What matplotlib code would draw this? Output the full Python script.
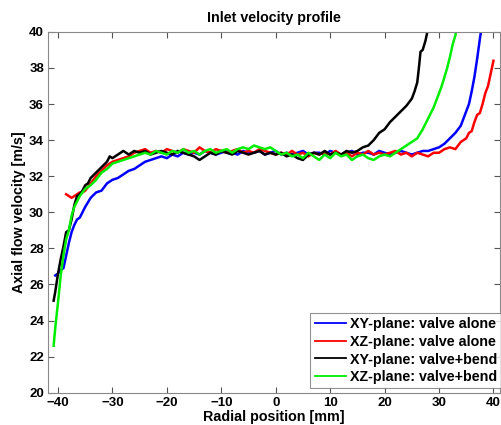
from matplotlib import pyplot as plt
from matplotlib.lines import Line2D

plt.rcParams['font.family'] = ['Liberation Sans', 'DejaVu Sans']
plt.rcParams['font.weight'] = 'bold'

# XY-plane: valve alone
x_blue = [-40.5, -40, -39.5, -39, -38.5, -38, -37.5, -37, -36.5, -36, -35.5, -35,
          -34, -33, -32, -31, -30, -29, -28, -27, -26, -25, -24, -23, -22, -21,
          -20, -19, -18, -17, -16, -15, -14, -13, -12, -11, -10, -9, -8, -7, -6,
          -5, -4, -3, -2, -1, 0, 1, 2, 3, 4, 5, 6, 7, 8, 9, 10, 11, 12, 13, 14,
          15, 16, 17, 18, 19, 20, 21, 22, 23, 24, 25, 26, 27, 28, 29, 30, 31, 32,
          33, 34, 35, 35.5, 36, 36.5, 37, 37.5, 38]
y_blue = [26.5, 26.6, 26.8, 26.9, 27.6, 28.3, 28.9, 29.3, 29.6, 29.7, 30.0, 30.3,
          30.8, 31.1, 31.2, 31.6, 31.8, 31.9, 32.1, 32.3, 32.4, 32.6, 32.8, 32.9,
          33.0, 33.1, 33.0, 33.2, 33.1, 33.3, 33.2, 33.3, 33.2, 33.4, 33.3, 33.2,
          33.3, 33.4, 33.3, 33.2, 33.4, 33.3, 33.3, 33.4, 33.2, 33.3, 33.4, 33.2,
          33.3, 33.2, 33.3, 33.4, 33.2, 33.3, 33.3, 33.2, 33.4, 33.3, 33.2, 33.3,
          33.4, 33.2, 33.3, 33.3, 33.2, 33.4, 33.3, 33.2, 33.3, 33.4, 33.3, 33.2,
          33.3, 33.4, 33.4, 33.5, 33.6, 33.8, 34.1, 34.4, 34.8, 35.6, 36.0, 36.7,
          37.5, 38.5, 39.6, 40.6]

# XZ-plane: valve alone
x_red = [-38.5, -38, -37.5, -37, -36.5, -36, -35.5, -35, -34, -33, -32, -31, -30,
         -29, -28, -27, -26, -25, -24, -23, -22, -21, -20, -19, -18, -17, -16,
         -15, -14, -13, -12, -11, -10, -9, -8, -7, -6, -5, -4, -3, -2, -1, 0, 1,
         2, 3, 4, 5, 6, 7, 8, 9, 10, 11, 12, 13, 14, 15, 16, 17, 18, 19, 20, 21,
         22, 23, 24, 25, 26, 27, 28, 29, 30, 31, 32, 33, 34, 35, 35.5, 36, 36.5,
         37, 37.5, 38, 38.5, 39, 39.5, 40]
y_red = [31.0, 30.9, 30.8, 30.9, 31.0, 31.1, 31.1, 31.2, 31.6, 32.0, 32.3, 32.6,
         32.8, 32.9, 33.0, 33.1, 33.3, 33.4, 33.5, 33.3, 33.4, 33.3, 33.5, 33.4,
         33.3, 33.5, 33.4, 33.3, 33.6, 33.4, 33.3, 33.5, 33.4, 33.3, 33.4, 33.5,
         33.3, 33.4, 33.3, 33.5, 33.4, 33.3, 33.2, 33.3, 33.2, 33.4, 33.2, 33.3,
         33.1, 33.3, 33.2, 33.3, 33.2, 33.4, 33.2, 33.3, 33.1, 33.3, 33.2, 33.4,
         33.2, 33.3, 33.2, 33.3, 33.4, 33.2, 33.3, 33.1, 33.3, 33.2, 33.1, 33.3,
         33.3, 33.5, 33.6, 33.5, 33.9, 34.1, 34.4, 34.5, 35.0, 35.4, 35.5, 36.0,
         36.6, 37.0, 37.7, 38.4]

# XY-plane: valve+bend
x_black = [-40.8, -40.5, -40, -39.5, -39, -38.5, -38, -37.5, -37, -36.5, -36, -35.5,
           -35, -34.5, -34, -33, -32, -31, -30.5, -30, -29, -28, -27, -26, -25, -24,
           -23, -22, -21, -20, -19, -18, -17, -16, -15, -14, -13, -12, -11, -10, -9,
           -8, -7, -6, -5, -4, -3, -2, -1, 0, 1, 2, 3, 4, 5, 6, 7, 8, 9, 10, 11, 12,
           13, 14, 15, 16, 17, 18, 19, 20, 21, 22, 23, 24, 25, 25.5, 26, 26.3, 26.6,
           27, 27.5, 28]
y_black = [25.1, 25.6, 26.6, 27.4, 28.1, 28.9, 29.0, 29.6, 30.4, 30.9, 31.0, 31.2,
           31.5, 31.6, 31.9, 32.2, 32.5, 32.8, 33.1, 33.0, 33.2, 33.4, 33.2, 33.4,
           33.3, 33.4, 33.2, 33.3, 33.4, 33.3, 33.2, 33.4, 33.3, 33.2, 33.1, 32.9,
           33.1, 33.3, 33.2, 33.4, 33.3, 33.2, 33.4, 33.3, 33.2, 33.3, 33.4, 33.2,
           33.3, 33.2, 33.3, 33.1, 33.2, 33.0, 32.9, 33.2, 33.3, 33.2, 33.4, 33.2,
           33.3, 33.2, 33.4, 33.3, 33.4, 33.6, 33.7, 34.0, 34.4, 34.6, 35.0, 35.3,
           35.6, 35.9, 36.3, 36.7, 37.2, 38.0, 38.9, 39.0, 39.5, 40.2]

# XZ-plane: valve+bend
x_green = [-40.8, -40.5, -40, -39.5, -39, -38.5, -38, -37.5, -37, -36.5, -36, -35,
           -34, -33, -32, -31, -30, -29, -28, -27, -26, -25, -24, -23, -22, -21,
           -20, -19, -18, -17, -16, -15, -14, -13, -12, -11, -10, -9, -8, -7, -6,
           -5, -4, -3, -2, -1, 0, 1, 2, 3, 4, 5, 6, 7, 8, 9, 10, 11, 12, 13, 14, 15,
           16, 17, 18, 19, 20, 21, 22, 23, 24, 25, 26, 27, 28, 28.5, 29, 29.5, 30,
           30.5, 31, 31.5, 32, 32.5, 33, 33.3]
y_green = [22.6, 23.6, 25.0, 26.5, 27.6, 28.5, 29.0, 29.8, 30.3, 30.6, 30.9, 31.3,
           31.5, 31.8, 32.2, 32.4, 32.7, 32.8, 32.9, 33.0, 33.1, 33.2, 33.3, 33.2,
           33.4, 33.3, 33.2, 33.4, 33.3, 33.5, 33.3, 33.4, 33.2, 33.4, 33.5, 33.3,
           33.4, 33.5, 33.3, 33.5, 33.6, 33.5, 33.7, 33.6, 33.5, 33.6, 33.4, 33.2,
           33.3, 33.1, 33.2, 33.0, 33.3, 33.1, 32.9, 33.2, 33.0, 33.3, 33.1, 33.2,
           32.9, 33.1, 33.2, 33.0, 32.9, 33.1, 33.2, 33.1, 33.3, 33.5, 33.7, 33.9,
           34.1, 34.6, 35.2, 35.5, 35.8, 36.2, 36.6, 37.0, 37.5, 38.0, 38.6, 39.3,
           39.8, 40.3]

labels = ['XY-plane: valve alone', 'XZ-plane: valve alone',
          'XY-plane: valve+bend', 'XZ-plane: valve+bend']
colors = ['#0000ff', '#ff0000', '#000000', '#00ee00']

fig = plt.figure(figsize=(5.02, 4.25), dpi=100)
ax = fig.add_axes([0.096, 0.076, 0.9, 0.849])

for xs, ys, c in zip([x_blue, x_red, x_black, x_green],
                     [y_blue, y_red, y_black, y_green], colors):
    ax.plot(xs, ys, color=c, lw=1.8)

ax.set_xlim(-41.8, 41.2)
ax.set_ylim(20, 40)
ax.set_xticks(range(-40, 41, 10))
ax.set_yticks(range(20, 41, 2))
ax.tick_params(direction='in', top=True, right=True, labelsize=9.5, length=4,
               color='#555555', pad=3)
for s in ax.spines.values():
    s.set_color('#888888')

ax.set_title('Inlet velocity profile', fontsize=10.3, fontweight='bold', pad=7)
ax.set_xlabel('Radial position [mm]', fontsize=10.3, fontweight='bold', labelpad=1)
ax.set_ylabel('Axial flow velocity [m/s]', fontsize=10.3, fontweight='bold', labelpad=2)

handles = [Line2D([0], [0], color=c, lw=1.3) for c in colors]
leg = ax.legend(handles, labels, loc='lower right', bbox_to_anchor=(1.003, 0.012),
                borderaxespad=0, fontsize=10.3, fancybox=False, handlelength=2.2,
                handletextpad=0.25, labelspacing=0.25, borderpad=0.3)
leg.get_frame().set_edgecolor('#777777')
leg.get_frame().set_linewidth(0.8)

plt.savefig('out.png', dpi=100)
